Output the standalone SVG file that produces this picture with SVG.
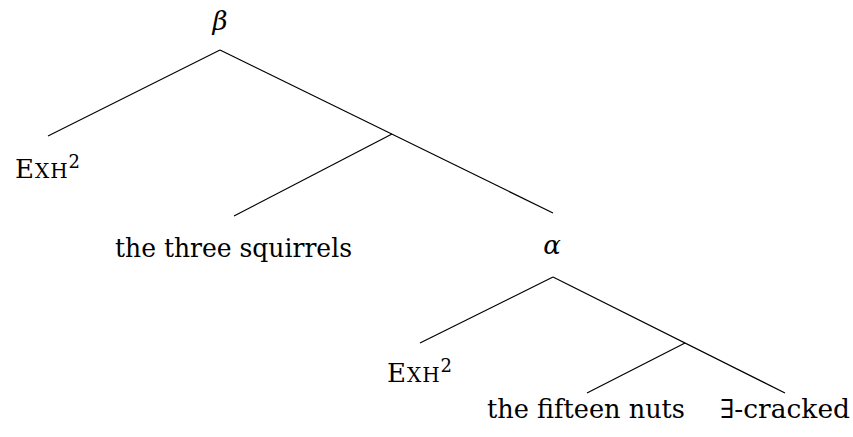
<svg xmlns="http://www.w3.org/2000/svg" width="853" height="437" viewBox="0 0 853 437">
<style>
text{font-family:"DejaVu Serif","Liberation Serif",serif;font-size:26px;fill:#000}
.it{font-style:italic}
.sc{font-size:20px}
.sup{font-size:18px}
.edges line{stroke:#000;stroke-width:1.2}
</style>
<rect width="853" height="437" fill="#fff"/>
<g class="edges" id="connectors">
<line x1="220" y1="50" x2="48" y2="136"/>
<line x1="220" y1="50" x2="553" y2="213"/>
<line x1="392" y1="134" x2="234" y2="216"/>
<line x1="553" y1="277" x2="420" y2="343"/>
<line x1="553" y1="277" x2="785" y2="393"/>
<line x1="685" y1="343" x2="587" y2="393"/>
</g>
<g id="beta"><text class="it" x="220" y="30" text-anchor="middle">β</text></g>
<g id="exh1"><text x="15" y="178" textLength="65">E<tspan class="sc">XH</tspan><tspan class="sup" dy="-10">2</tspan></text></g>
<g id="squirrels"><text x="233.5" y="257" text-anchor="middle" textLength="237" lengthAdjust="spacingAndGlyphs">the three squirrels</text></g>
<g id="alpha"><text class="it" x="552" y="254" text-anchor="middle">α</text></g>
<g id="exh2"><text x="387" y="382" textLength="65">E<tspan class="sc">XH</tspan><tspan class="sup" dy="-10">2</tspan></text></g>
<g id="nuts"><text x="586" y="418" text-anchor="middle" textLength="198" lengthAdjust="spacingAndGlyphs">the fifteen nuts</text></g>
<g id="cracked"><text x="785" y="418" text-anchor="middle" textLength="130" lengthAdjust="spacingAndGlyphs">∃-cracked</text></g>
</svg>
